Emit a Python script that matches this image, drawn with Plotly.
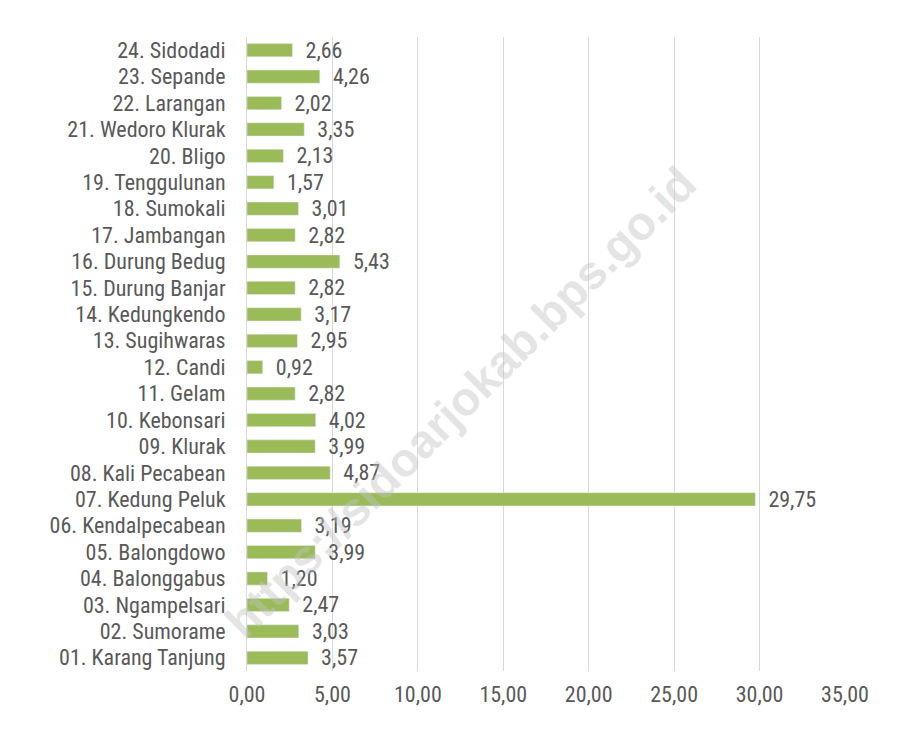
import plotly.graph_objects as go

categories = ["01. Karang Tanjung", "02. Sumorame", "03. Ngampelsari", "04. Balonggabus",
              "05. Balongdowo", "06. Kendalpecabean", "07. Kedung Peluk", "08. Kali Pecabean",
              "09. Klurak", "10. Kebonsari", "11. Gelam", "12. Candi", "13. Sugihwaras",
              "14. Kedungkendo", "15. Durung Banjar", "16. Durung Bedug", "17. Jambangan",
              "18. Sumokali", "19. Tenggulunan", "20. Bligo", "21. Wedoro Klurak",
              "22. Larangan", "23. Sepande", "24. Sidodadi"]
values = [3.57, 3.03, 2.47, 1.20, 3.99, 3.19, 29.75, 4.87, 3.99, 4.02, 2.82, 0.92, 2.95,
          3.17, 2.82, 5.43, 2.82, 3.01, 1.57, 2.13, 3.35, 2.02, 4.26, 2.66]
x_ticks = [0, 5, 10, 15, 20, 25, 30, 35]
x_tick_labels = ["0,00", "5,00", "10,00", "15,00", "20,00", "25,00", "30,00", "35,00"]

font_family = "Liberation Sans Narrow, Arial Narrow, Roboto Condensed, Roboto, sans-serif"
gray = "#595959"

fig = go.Figure(go.Bar(
    y=categories, x=values, orientation="h",
    marker=dict(color="#9BBB59"),
    text=["\u00a0\u00a0" + f"{v:.2f}".replace(".", ",") for v in values],
    textposition="outside",
    constraintext="none",
    textfont=dict(family=font_family, size=22, color=gray),
    cliponaxis=False,
))

fig.update_layout(
    width=900, height=739,
    margin=dict(l=239, r=63, t=29, b=76, autoexpand=False),
    paper_bgcolor="white", plot_bgcolor="white",
    bargap=0.5,
    showlegend=False,
    font=dict(family=font_family, color=gray),
    xaxis=dict(range=[0, 35], tickvals=x_ticks, ticktext=x_tick_labels,
               showgrid=True, gridcolor="#D9D9D9", gridwidth=1, zeroline=False,
               tickfont=dict(size=22, color=gray), ticks="", ticklabelstandoff=8,
               automargin=False),
    yaxis=dict(tickfont=dict(size=22, color=gray), ticks="", showgrid=False,
               showline=True, linecolor="#D9D9D9", linewidth=1,
               ticklabelstandoff=16, automargin=False),
    annotations=[dict(
        text="<b>https://sidoarjokab.bps.go.id</b>", x=0.356, y=0.424, xref="paper", yref="paper",
        xanchor="center", yanchor="middle",
        textangle=-45, showarrow=False,
        font=dict(family="Liberation Sans, Arial, sans-serif", size=47, color="rgba(195,195,195,0.45)"),
    )],
)

fig.write_html("out.html")
